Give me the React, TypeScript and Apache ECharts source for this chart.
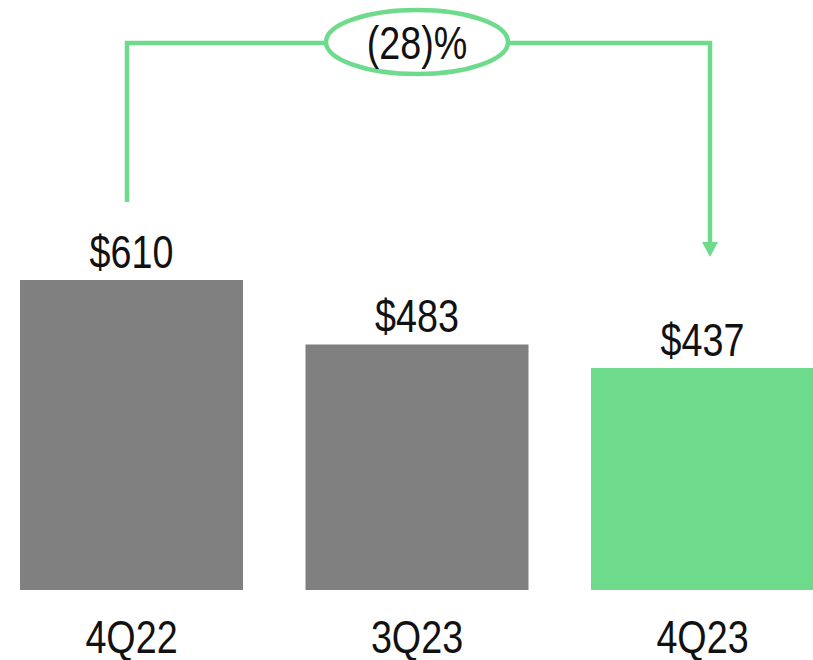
import React, { useEffect, useRef } from "react";
import * as echarts from "echarts";

const categories = ["4Q22", "3Q23", "4Q23"];
const values = [610, 483, 437];
const valueLabels = ["$610", "$483", "$437"];
const changeLabel = "(28)%";

const GRAY = "#808080";
const GREEN = "#6EDB8C";
const FONT = '"Liberation Sans", Arial, sans-serif';
const NARROW = 0.82;
const FS = 46;

export default function App() {
  const ref = useRef<HTMLDivElement>(null);
  useEffect(() => {
    if (!ref.current) return;
    const chart = echarts.init(ref.current, undefined, { renderer: "svg" });
    chart.setOption({
      animation: false,
      backgroundColor: "#ffffff",
      grid: { left: 131.5, right: 110.5, top: 280, bottom: 70 },
      xAxis: {
        type: "category",
        data: categories,
        boundaryGap: false,
        axisLine: { show: false },
        axisTick: { show: false },
        axisLabel: { show: false },
      },
      yAxis: { type: "value", min: 0, max: 610, show: false, splitLine: { show: false } },
      series: [
        {
          type: "bar",
          clip: false,
          barWidth: 223,
          data: values.map((v, i) => ({
            value: v,
            itemStyle: { color: i === values.length - 1 ? GREEN : GRAY },
          })),
        },
      ],
    });

    const texts: any[] = [];
    categories.forEach((c, i) => {
      const top = chart.convertToPixel({ gridIndex: 0 }, [c, values[i]]) as number[];
      const base = chart.convertToPixel({ gridIndex: 0 }, [c, 0]) as number[];
      texts.push({
        type: "text",
        x: top[0],
        y: top[1] - 28,
        scaleX: NARROW,
        style: {
          text: valueLabels[i],
          fontFamily: FONT,
          fontSize: FS,
          lineHeight: 40,
          fill: "#111",
          align: "center",
          verticalAlign: "middle",
        },
      });
      texts.push({
        type: "text",
        x: base[0],
        y: base[1] + 47,
        scaleX: NARROW,
        style: {
          text: c,
          fontFamily: FONT,
          fontSize: FS,
          lineHeight: 38,
          fill: "#111",
          align: "center",
          verticalAlign: "middle",
        },
      });
    });

    chart.setOption({
      graphic: [
        {
          type: "polyline",
          shape: { points: [[127, 202], [127, 43], [330, 43]] },
          style: { stroke: GREEN, lineWidth: 4.5, fill: null },
        },
        {
          type: "polyline",
          shape: { points: [[505, 43], [710, 43], [710, 244]] },
          style: { stroke: GREEN, lineWidth: 4.5, fill: null },
        },
        {
          type: "polygon",
          shape: { points: [[702, 242], [718, 242], [710, 257]] },
          style: { fill: GREEN },
        },
        {
          type: "ellipse",
          shape: { cx: 417, cy: 42, rx: 91, ry: 32 },
          style: { stroke: GREEN, lineWidth: 4.5, fill: "#ffffff" },
        },
        {
          type: "text",
          x: 417,
          y: 43,
          scaleX: NARROW,
          style: {
            text: changeLabel,
            fontFamily: FONT,
            fontSize: FS,
            lineHeight: 40,
            fill: "#111",
            align: "center",
            verticalAlign: "middle",
          },
        },
        ...texts,
      ],
    });
    return () => chart.dispose();
  }, []);
  return (
    <div
      ref={ref}
      style={{ position: "absolute", left: 0, top: 0, width: 813, height: 660 }}
    />
  );
}
